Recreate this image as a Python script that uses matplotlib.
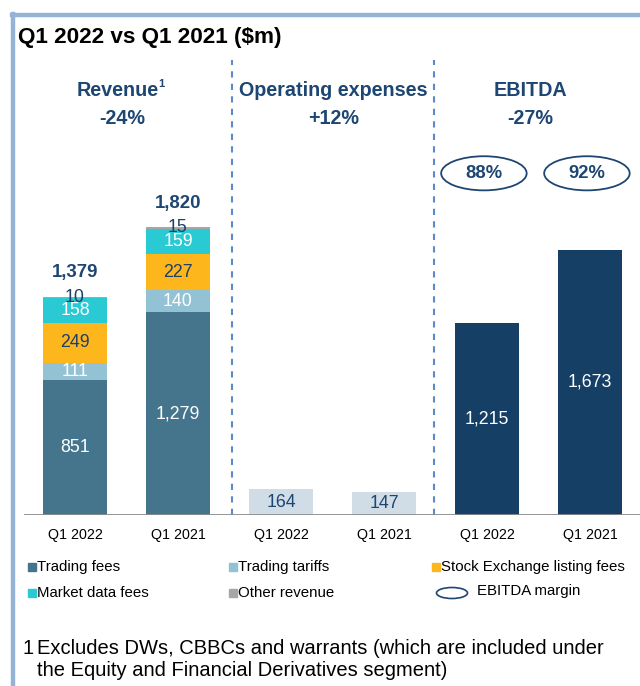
import numpy as np
import matplotlib
matplotlib.use('Agg')
import matplotlib.pyplot as plt
from matplotlib.patches import Ellipse, Rectangle

plt.rcParams['font.family'] = ['Liberation Sans', 'DejaVu Sans']

# data ($m)
periods = ['Q1 2022', 'Q1 2021', 'Q1 2022', 'Q1 2021', 'Q1 2022', 'Q1 2021']
rev_segments = ['Trading fees', 'Trading tariffs', 'Stock Exchange listing fees',
                'Market data fees', 'Other revenue']
trading_fees = [851, 1279]
trading_tariffs = [111, 140]
listing_fees = [249, 227]
market_data_fees = [158, 159]
other_revenue = [10, 15]
revenue_total = [1379, 1820]
opex = [164, 147]
ebitda = [1215, 1673]
ebitda_margin = ['88%', '92%']
headings = ['Revenue', 'Operating expenses', 'EBITDA']
changes = ['-24%', '+12%', '-27%']

seg_colors = ['#44758c', '#93c2d4', '#fdb71d', '#29cad3', '#a6a6a6']
seg_text = ['white', 'white', '#1f3f66', 'white', '#1f3f66']
navy = '#1d4673'
opex_color = '#d0dde6'
ebitda_color = '#163f66'
frame_color = '#95b3d7'

W, H = 640, 686
fig = plt.figure(figsize=(W / 100, H / 100), dpi=100)

# frame
fig.add_artist(plt.Line2D([13 / W, 13 / W], [0, 1 - 14 / H], color=frame_color, lw=3.2))
fig.add_artist(plt.Line2D([11.5 / W, 1], [1 - 15 / H, 1 - 15 / H], color=frame_color, lw=3.2))
fig.text(18 / W, 1 - 37 / H, 'Q1 2022 vs Q1 2021 ($m)', fontsize=16.2, weight='bold',
         ha='left', va='center')

ax = fig.add_axes([23.5 / W, 1 - 515 / H, 618 / W, 455 / H])
ax.set_xlim(-0.5, 5.5)
ax.set_ylim(0, 2872)
for s in ax.spines.values():
    s.set_visible(False)
ax.set_yticks([])
ax.set_xticks(range(6))
ax.set_xticklabels(periods, fontsize=10.3)
ax.tick_params(axis='x', length=0, pad=9)

bw = 0.62
lab_fs = 12.8
x_rev = np.arange(2)
stack = [trading_fees, trading_tariffs, listing_fees, market_data_fees, other_revenue]
bottom = np.zeros(2)
for vals, col, tc in zip(stack, seg_colors, seg_text):
    vals = np.array(vals)
    ax.bar(x_rev, vals, bw, bottom=bottom, color=col, zorder=2)
    for xi, b, v in zip(x_rev, bottom, vals):
        ax.text(xi, b + v / 2, '{:,}'.format(v), ha='center', va='center',
                color=tc, fontsize=lab_fs, zorder=3)
    bottom = bottom + vals
for xi, t, top in zip(x_rev, revenue_total, bottom):
    ax.annotate('{:,}'.format(t), (xi, top), xytext=(0, 17), textcoords='offset points',
                ha='center', va='center', fontsize=13.4, weight='bold', color=navy)

x_op = np.arange(2, 4)
ax.bar(x_op, opex, bw, color=opex_color, zorder=2)
for xi, v in zip(x_op, opex):
    ax.text(xi, v / 2, '{:,}'.format(v), ha='center', va='center', color=navy,
            fontsize=lab_fs)

x_eb = np.arange(4, 6)
ax.bar(x_eb, ebitda, bw, color=ebitda_color, zorder=2)
for xi, v in zip(x_eb, ebitda):
    ax.text(xi, v / 2, '{:,}'.format(v), ha='center', va='center', color='white',
            fontsize=lab_fs)

# margins in ellipses
tr = ax.get_xaxis_transform()
for xi, m in zip(x_eb, ebitda_margin):
    ax.add_patch(Ellipse((xi - 0.03, 0.751), 0.83, 0.075, transform=tr, fill=False,
                         ec=navy, lw=1.3, clip_on=False))
    ax.text(xi - 0.03, 0.751, m, transform=tr, ha='center', va='center',
            fontsize=13.2, weight='bold', color=navy)

# section headings
for hx, h, c in zip([0.41, 2.51, 4.42], headings, changes):
    t = ax.text(hx, 0.934, h, transform=tr, ha='center', va='center', fontsize=14.2,
                weight='bold', color=navy)
    ax.text(hx + (0.05 if h == 'Revenue' else 0), 0.871, c, transform=tr, ha='center',
            va='center', fontsize=14.2, weight='bold', color=navy)
    if h == 'Revenue':
        ax.annotate('1', xy=(1, 1), xycoords=t, xytext=(0.3, 1),
                    textcoords='offset points', ha='left', va='top', fontsize=8,
                    weight='bold', color=navy)

# dashed separators between sections
for dx in [1.52, 3.485]:
    ax.axvline(dx, ymin=0, ymax=1.0, color='#5b8bc6', lw=1.5, ls=(0, (3, 3)), zorder=1)
ax.axhline(0, color='#8c8c8c', lw=2, zorder=3)

# legend
leg_fs = 10.8
legend_rows = [(567, [(28, seg_colors[0], rev_segments[0]),
                      (229, seg_colors[1], rev_segments[1]),
                      (432, seg_colors[2], rev_segments[2])]),
               (593, [(28, seg_colors[3], rev_segments[3]),
                      (229, seg_colors[4], rev_segments[4])])]
for ypx, items in legend_rows:
    for xpx, col, lab in items:
        fig.add_artist(Rectangle((xpx / W, 1 - (ypx + 4) / H), 8 / W, 8 / H,
                                 color=col, transform=fig.transFigure))
        fig.text((xpx + 9) / W, 1 - ypx / H, lab, fontsize=leg_fs, ha='left', va='center')
fig.add_artist(Ellipse((452 / W, 1 - 593 / H), 31 / W, 11 / H, fill=False, ec=navy,
                       lw=1.2, transform=fig.transFigure))
fig.text(477 / W, 1 - 591 / H, 'EBITDA margin', fontsize=leg_fs, ha='left', va='center')

# footnote
foot_fs = 14.5
fig.text(22 / W, 1 - 648 / H, '1', fontsize=foot_fs, ha='left', va='center')
fig.text(37 / W, 1 - 648 / H, 'Excludes DWs, CBBCs and warrants (which are included under',
         fontsize=foot_fs, ha='left', va='center')
fig.text(37 / W, 1 - 671 / H, 'the Equity and Financial Derivatives segment)',
         fontsize=foot_fs, ha='left', va='center')

fig.savefig('out.png', dpi=100)
